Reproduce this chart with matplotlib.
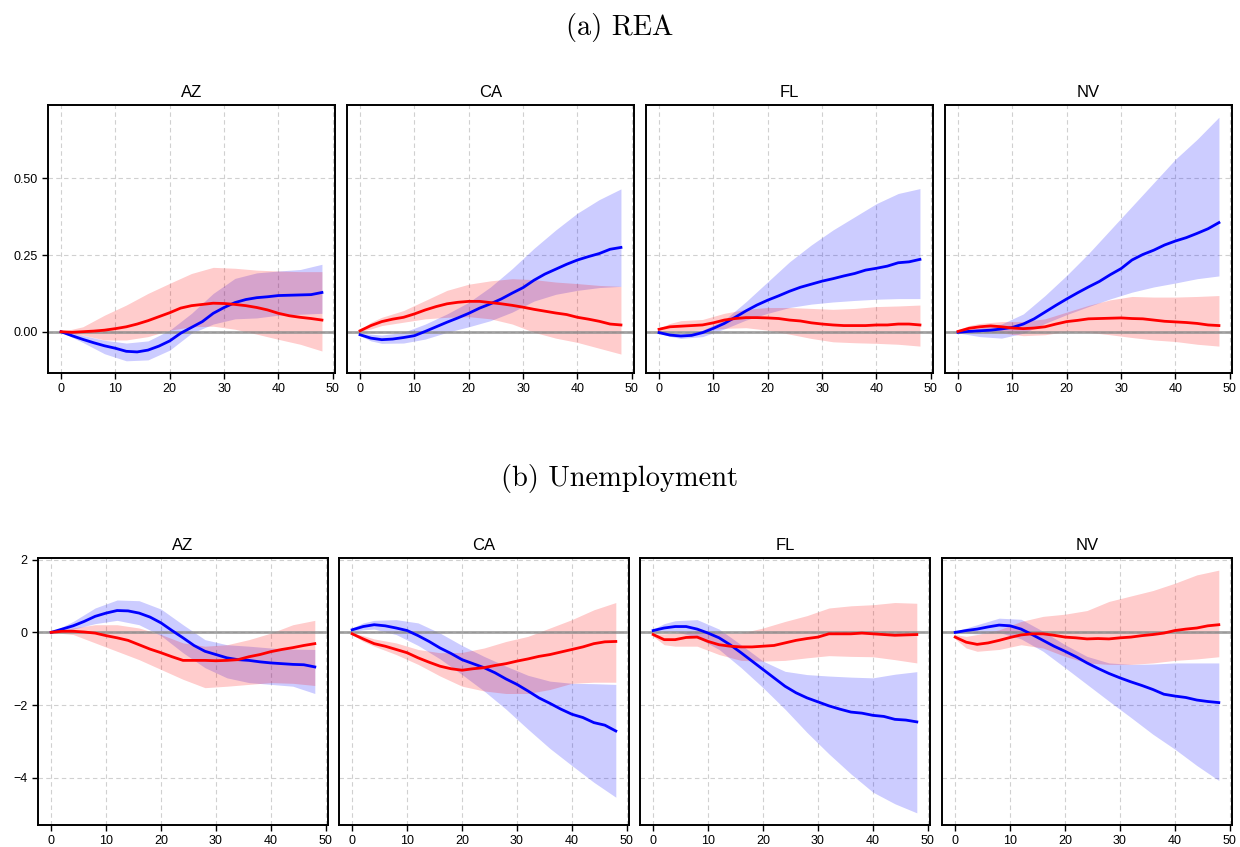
import matplotlib.pyplot as plt

horizons = list(range(0, 49, 2))
band_horizons = [0, 2, 4, 8, 12, 16, 20, 24, 28, 32, 36, 40, 44, 48]
states = ["AZ", "CA", "FL", "NV"]

# ---- (a) REA ----
rea_az_blue = [0.0, -0.013, -0.025, -0.036, -0.046, -0.054, -0.064, -0.066, -0.06, -0.047, -0.03, -0.005, 0.014,
               0.033, 0.06, 0.079, 0.095, 0.105, 0.111, 0.114, 0.118, 0.119, 0.12, 0.121, 0.128]
rea_az_blue_lo = [0.0, -0.018, -0.035, -0.072, -0.095, -0.092, -0.06, -0.005, 0.025, 0.042, 0.045, 0.054, 0.057, 0.06]
rea_az_blue_hi = [0.0, -0.003, -0.012, -0.028, -0.037, -0.03, 0.005, 0.06, 0.125, 0.174, 0.192, 0.198, 0.203, 0.22]
rea_az_red = [0.0, -0.002, 0.0, 0.002, 0.005, 0.01, 0.016, 0.025, 0.036, 0.049, 0.062, 0.077, 0.085,
              0.089, 0.093, 0.092, 0.089, 0.085, 0.079, 0.071, 0.06, 0.052, 0.047, 0.043, 0.038]
rea_az_red_lo = [0.0, -0.006, -0.011, -0.027, -0.027, -0.016, 0.005, 0.016, 0.018, 0.008, -0.008, -0.025, -0.041, -0.063]
rea_az_red_hi = [0.0, 0.008, 0.016, 0.054, 0.087, 0.125, 0.158, 0.19, 0.21, 0.207, 0.201, 0.198, 0.196, 0.196]

rea_ca_blue = [-0.01, -0.021, -0.026, -0.024, -0.019, -0.013, 0.001, 0.016, 0.031, 0.045, 0.06, 0.077, 0.091,
               0.107, 0.126, 0.144, 0.168, 0.188, 0.204, 0.22, 0.234, 0.245, 0.255, 0.269, 0.275]
rea_ca_blue_lo = [-0.013, -0.03, -0.038, -0.037, -0.024, -0.002, 0.016, 0.036, 0.064, 0.1, 0.122, 0.135, 0.144, 0.148]
rea_ca_blue_hi = [-0.005, -0.008, -0.011, -0.002, 0.025, 0.058, 0.096, 0.146, 0.206, 0.272, 0.332, 0.387, 0.431, 0.466]
rea_ca_red = [0.003, 0.02, 0.033, 0.041, 0.047, 0.058, 0.071, 0.082, 0.091, 0.096, 0.099, 0.099, 0.095,
              0.091, 0.086, 0.08, 0.073, 0.067, 0.061, 0.056, 0.047, 0.041, 0.034, 0.025, 0.022]
rea_ca_red_lo = [0.001, 0.009, 0.02, 0.031, 0.042, 0.047, 0.049, 0.042, 0.025, -0.002, -0.021, -0.035, -0.054, -0.073]
rea_ca_red_hi = [0.005, 0.031, 0.047, 0.069, 0.102, 0.135, 0.155, 0.166, 0.173, 0.17, 0.162, 0.157, 0.151, 0.148]

rea_fl_blue = [-0.003, -0.011, -0.014, -0.012, -0.003, 0.011, 0.027, 0.047, 0.068, 0.087, 0.103, 0.117, 0.132,
               0.145, 0.155, 0.165, 0.173, 0.182, 0.19, 0.201, 0.207, 0.214, 0.225, 0.228, 0.236]
rea_fl_blue_lo = [-0.005, -0.015, -0.022, -0.016, 0.009, 0.038, 0.06, 0.079, 0.09, 0.097, 0.102, 0.106, 0.108, 0.108]
rea_fl_blue_hi = [0.0, -0.004, -0.006, 0.005, 0.038, 0.098, 0.163, 0.228, 0.283, 0.332, 0.375, 0.418, 0.451, 0.467]
rea_fl_red = [0.008, 0.016, 0.018, 0.02, 0.022, 0.029, 0.038, 0.043, 0.046, 0.046, 0.045, 0.043, 0.038,
              0.035, 0.029, 0.025, 0.022, 0.02, 0.02, 0.02, 0.022, 0.022, 0.025, 0.025, 0.022]
rea_fl_red_lo = [0.0, 0.003, 0.003, 0.005, 0.011, 0.013, 0.005, -0.008, -0.022, -0.033, -0.036, -0.038, -0.041, -0.047]
rea_fl_red_hi = [0.011, 0.027, 0.036, 0.04, 0.06, 0.073, 0.079, 0.079, 0.076, 0.073, 0.076, 0.082, 0.084, 0.087]

rea_nv_blue = [-0.002, 0.001, 0.003, 0.005, 0.009, 0.014, 0.025, 0.042, 0.064, 0.086, 0.107, 0.127, 0.146,
               0.164, 0.186, 0.206, 0.234, 0.252, 0.266, 0.283, 0.296, 0.307, 0.321, 0.336, 0.356]
rea_nv_blue_lo = [-0.004, -0.01, -0.016, -0.021, -0.005, 0.027, 0.056, 0.082, 0.107, 0.129, 0.146, 0.159, 0.173, 0.182]
rea_nv_blue_hi = [0.001, 0.007, 0.012, 0.025, 0.058, 0.118, 0.184, 0.255, 0.332, 0.409, 0.486, 0.563, 0.628, 0.7]
rea_nv_red = [0.001, 0.011, 0.016, 0.019, 0.016, 0.012, 0.01, 0.012, 0.016, 0.025, 0.033, 0.037, 0.042,
              0.043, 0.044, 0.045, 0.043, 0.042, 0.038, 0.034, 0.032, 0.03, 0.027, 0.022, 0.02]
rea_nv_red_lo = [-0.002, 0.001, 0.001, -0.004, -0.013, -0.01, 0.001, -0.002, -0.01, -0.019, -0.027, -0.032, -0.041, -0.047]
rea_nv_red_hi = [0.005, 0.02, 0.027, 0.033, 0.033, 0.042, 0.064, 0.086, 0.104, 0.115, 0.113, 0.113, 0.115, 0.118]

# ---- (b) Unemployment ----
une_az_blue = [0.0, 0.09, 0.18, 0.3, 0.44, 0.53, 0.6, 0.59, 0.53, 0.42, 0.26, 0.05, -0.15,
               -0.36, -0.52, -0.61, -0.7, -0.75, -0.77, -0.81, -0.84, -0.86, -0.88, -0.89, -0.95]
une_az_blue_lo = [0.0, 0.03, 0.09, 0.24, 0.33, 0.21, -0.09, -0.56, -0.97, -1.25, -1.38, -1.43, -1.48, -1.68]
une_az_blue_hi = [0.0, 0.15, 0.3, 0.67, 0.89, 0.87, 0.64, 0.21, -0.2, -0.34, -0.38, -0.43, -0.46, -0.47]
une_az_red = [0.0, 0.03, 0.03, 0.01, -0.02, -0.09, -0.15, -0.22, -0.34, -0.46, -0.56, -0.67, -0.77,
              -0.77, -0.77, -0.78, -0.77, -0.75, -0.67, -0.61, -0.53, -0.47, -0.42, -0.36, -0.31]
une_az_red_lo = [0.0, -0.03, -0.06, -0.29, -0.52, -0.75, -1.02, -1.29, -1.52, -1.48, -1.43, -1.38, -1.4, -1.46]
une_az_red_hi = [0.0, 0.07, 0.12, 0.21, 0.21, 0.12, -0.06, -0.29, -0.38, -0.34, -0.2, -0.02, 0.21, 0.33]

une_ca_blue = [0.07, 0.16, 0.21, 0.18, 0.12, 0.05, -0.09, -0.25, -0.43, -0.58, -0.75, -0.86, -0.97,
               -1.11, -1.28, -1.43, -1.61, -1.8, -1.95, -2.11, -2.25, -2.34, -2.48, -2.55, -2.71]
une_ca_blue_lo = [0.03, 0.07, 0.09, -0.06, -0.36, -0.73, -1.16, -1.61, -2.11, -2.66, -3.19, -3.66, -4.12, -4.53]
une_ca_blue_hi = [0.12, 0.26, 0.33, 0.35, 0.26, -0.02, -0.36, -0.66, -0.93, -1.18, -1.34, -1.4, -1.41, -1.43]
une_ca_red = [-0.04, -0.18, -0.31, -0.38, -0.47, -0.56, -0.7, -0.82, -0.93, -1.0, -1.04, -1.0, -0.97,
              -0.91, -0.86, -0.79, -0.73, -0.66, -0.61, -0.54, -0.47, -0.4, -0.31, -0.26, -0.25]
une_ca_red_lo = [-0.06, -0.25, -0.38, -0.61, -0.88, -1.2, -1.48, -1.61, -1.68, -1.68, -1.57, -1.4, -1.37, -1.37]
une_ca_red_hi = [-0.02, -0.09, -0.18, -0.29, -0.47, -0.56, -0.55, -0.43, -0.25, -0.11, 0.12, 0.35, 0.62, 0.82]

une_fl_blue = [0.05, 0.12, 0.16, 0.16, 0.09, -0.02, -0.15, -0.34, -0.56, -0.79, -1.02, -1.25, -1.48,
               -1.66, -1.8, -1.91, -2.02, -2.11, -2.19, -2.22, -2.28, -2.31, -2.39, -2.41, -2.46]
une_fl_blue_lo = [0.03, 0.03, 0.03, -0.14, -0.47, -0.97, -1.52, -2.11, -2.75, -3.34, -3.89, -4.39, -4.71, -4.96]
une_fl_blue_hi = [0.09, 0.24, 0.32, 0.35, 0.09, -0.34, -0.79, -1.07, -1.16, -1.2, -1.23, -1.25, -1.15, -1.08]
une_fl_red = [-0.06, -0.2, -0.2, -0.14, -0.13, -0.25, -0.34, -0.38, -0.4, -0.4, -0.38, -0.36, -0.29,
              -0.22, -0.17, -0.13, -0.04, -0.04, -0.04, -0.02, -0.04, -0.06, -0.08, -0.07, -0.06]
une_fl_red_lo = [-0.11, -0.34, -0.38, -0.38, -0.61, -0.77, -0.79, -0.77, -0.7, -0.64, -0.66, -0.67, -0.75, -0.84]
une_fl_red_hi = [-0.04, -0.04, -0.02, 0.05, -0.02, -0.02, 0.12, 0.3, 0.46, 0.67, 0.73, 0.76, 0.82, 0.8]

une_nv_blue = [0.0, 0.05, 0.09, 0.15, 0.2, 0.18, 0.09, -0.06, -0.22, -0.38, -0.52, -0.67, -0.84,
               -0.99, -1.13, -1.25, -1.36, -1.46, -1.57, -1.7, -1.75, -1.79, -1.86, -1.9, -1.93]
une_nv_blue_lo = [-0.02, -0.02, -0.04, 0.0, -0.18, -0.52, -0.97, -1.43, -1.89, -2.34, -2.8, -3.21, -3.66, -4.07]
une_nv_blue_hi = [0.03, 0.12, 0.21, 0.39, 0.36, 0.03, -0.34, -0.66, -0.84, -0.88, -0.87, -0.84, -0.84, -0.84]
une_nv_red = [-0.13, -0.27, -0.33, -0.29, -0.22, -0.14, -0.07, -0.04, -0.04, -0.08, -0.13, -0.15, -0.18,
              -0.17, -0.18, -0.15, -0.13, -0.09, -0.06, -0.02, 0.05, 0.09, 0.12, 0.18, 0.21]
une_nv_red_lo = [-0.18, -0.43, -0.52, -0.47, -0.34, -0.43, -0.66, -0.84, -0.88, -0.88, -0.84, -0.77, -0.73, -0.67]
une_nv_red_hi = [-0.06, -0.11, -0.06, 0.07, 0.3, 0.44, 0.5, 0.6, 0.85, 1.0, 1.15, 1.35, 1.58, 1.71]

rea_yticks = [0.0, 0.25, 0.5]
rea_ylabels = ["0.00", "0.25", "0.50"]
une_yticks = [-4, -2, 0, 2]
une_ylabels = ["\u22124", "\u22122", "0", "2"]
xticks = [0, 10, 20, 30, 40, 50]

BLUE = "#0000ff"
RED = "#ff0000"


def draw_panel(ax, state, blue, blue_lo, blue_hi, red, red_lo, red_hi):
    ax.fill_between(band_horizons, blue_lo, blue_hi, color=BLUE, alpha=0.2, lw=0)
    ax.fill_between(band_horizons, red_lo, red_hi, color=RED, alpha=0.2, lw=0)
    ax.axhline(0, color="#8c8c8c", lw=2, alpha=0.8, zorder=2)
    ax.plot(horizons, blue, color=BLUE, lw=2, zorder=3)
    ax.plot(horizons, red, color=RED, lw=2, zorder=3)
    ax.set_title(state, fontsize=12, pad=6, family="Liberation Sans")
    ax.grid(True, ls=(0, (4, 3)), color="#d0d0d0", lw=0.8)
    ax.set_axisbelow(True)
    for sp in ax.spines.values():
        sp.set_linewidth(1.4)
    ax.tick_params(direction="out", length=4, width=1, labelsize=9)
    ax.set_xticks(xticks)
    for lab in ax.get_xticklabels() + ax.get_yticklabels():
        lab.set_family("Liberation Sans")


def draw_row(fig, lefts, bottom, width, height, panels, yticks, ylabels):
    first = None
    for left, state, data in zip(lefts, states, panels):
        ax = fig.add_axes([left, bottom, width, height], sharey=first)
        draw_panel(ax, state, *data)
        if first is None:
            first = ax
            ax.set_yticks(yticks)
            ax.set_yticklabels(ylabels, family="Liberation Sans")
        else:
            ax.tick_params(axis="y", left=False, labelleft=False)


def main():
    fig = plt.figure(figsize=(12.4, 8.47), dpi=100)
    W, H = 1240, 847

    rea_panels = [
        (rea_az_blue, rea_az_blue_lo, rea_az_blue_hi, rea_az_red, rea_az_red_lo, rea_az_red_hi),
        (rea_ca_blue, rea_ca_blue_lo, rea_ca_blue_hi, rea_ca_red, rea_ca_red_lo, rea_ca_red_hi),
        (rea_fl_blue, rea_fl_blue_lo, rea_fl_blue_hi, rea_fl_red, rea_fl_red_lo, rea_fl_red_hi),
        (rea_nv_blue, rea_nv_blue_lo, rea_nv_blue_hi, rea_nv_red, rea_nv_red_lo, rea_nv_red_hi),
    ]
    une_panels = [
        (une_az_blue, une_az_blue_lo, une_az_blue_hi, une_az_red, une_az_red_lo, une_az_red_hi),
        (une_ca_blue, une_ca_blue_lo, une_ca_blue_hi, une_ca_red, une_ca_red_lo, une_ca_red_hi),
        (une_fl_blue, une_fl_blue_lo, une_fl_blue_hi, une_fl_red, une_fl_red_lo, une_fl_red_hi),
        (une_nv_blue, une_nv_blue_lo, une_nv_blue_hi, une_nv_red, une_nv_red_lo, une_nv_red_hi),
    ]

    draw_row(fig, [48 / W, 347 / W, 646 / W, 945 / W], 1 - 373 / H, 287 / W, 268 / H,
             rea_panels, rea_yticks, rea_ylabels)
    draw_row(fig, [38 / W, 339 / W, 640 / W, 942 / W], 1 - 825 / H, 290 / W, 267 / H,
             une_panels, une_yticks, une_ylabels)

    fig.text(0.5, 1 - 27 / H, "(a) REA", family="cmr10", fontsize=20.5, ha="center", va="center")
    fig.text(0.5, 1 - 478 / H, "(b) Unemployment", family="cmr10", fontsize=20.5, ha="center", va="center")

    fig.savefig("out.png", dpi=100)
    plt.close(fig)


if __name__ == "__main__":
    main()
